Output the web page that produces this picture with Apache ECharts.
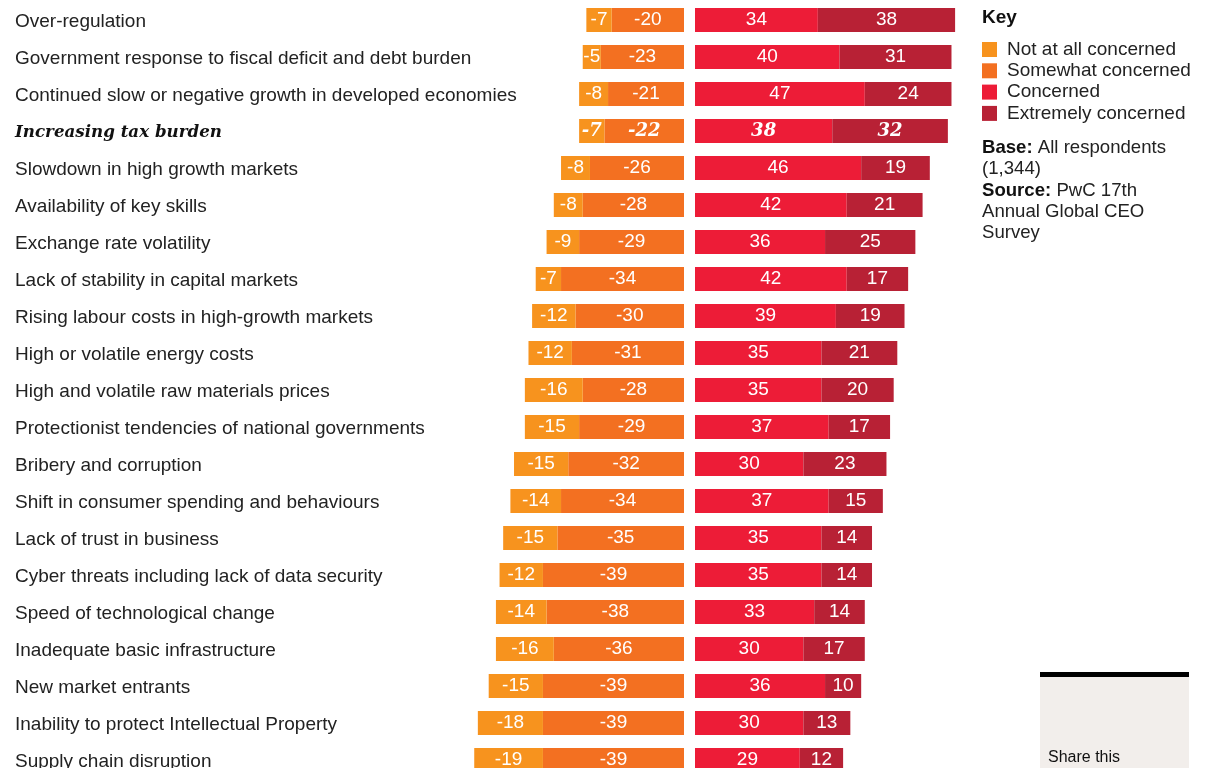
<!DOCTYPE html>
<html><head><meta charset="utf-8">
<script src="https://cdn.jsdelivr.net/npm/echarts@6/dist/echarts.min.js"></script>
<style>html,body{margin:0;padding:0;background:#fff;overflow:hidden;width:1209px;height:768px;}#c{width:1209px;height:800px;}</style>
</head><body><div id="c"></div>
<script>
const categories = [
  "Over-regulation",
  "Government response to fiscal deficit and debt burden",
  "Continued slow or negative growth in developed economies",
  "Increasing tax burden",
  "Slowdown in high growth markets",
  "Availability of key skills",
  "Exchange rate volatility",
  "Lack of stability in capital markets",
  "Rising labour costs in high-growth markets",
  "High or volatile energy costs",
  "High and volatile raw materials prices",
  "Protectionist tendencies of national governments",
  "Bribery and corruption",
  "Shift in consumer spending and behaviours",
  "Lack of trust in business",
  "Cyber threats including lack of data security",
  "Speed of technological change",
  "Inadequate basic infrastructure",
  "New market entrants",
  "Inability to protect Intellectual Property",
  "Supply chain disruption"
];
const notAtAll   = [-7,-5,-8,-7,-8,-8,-9,-7,-12,-12,-16,-15,-15,-14,-15,-12,-14,-16,-15,-18,-19];
const somewhat   = [-20,-23,-21,-22,-26,-28,-29,-34,-30,-31,-28,-29,-32,-34,-35,-39,-38,-36,-39,-39,-39];
const concerned  = [34,40,47,38,46,42,36,42,39,35,35,37,30,37,35,35,33,30,36,30,29];
const extremely  = [38,31,24,32,19,21,25,17,19,21,20,17,23,15,14,14,14,17,10,13,12];
const highlighted = ["Increasing tax burden"];
const seriesNames = ["Not at all concerned","Somewhat concerned","Concerned","Extremely concerned"];

const colors = {"Not at all concerned":"#F7931E","Somewhat concerned":"#F37021","Concerned":"#ED1C37","Extremely concerned":"#B82135"};
const SANS = "Liberation Sans, Arial, Helvetica, sans-serif";
const SERIF = "DejaVu Serif, Georgia, serif";

function items(arr){
  return arr.map((v,i)=>{
    const hl = highlighted.indexOf(categories[i])>=0;
    return hl ? {value:v,label:{fontFamily:SERIF,fontStyle:'italic',fontWeight:'bold',fontSize:18}} : v;
  });
}
function mk(name, arr, idx){
  return {
    name:name, type:'bar', stack:'s'+idx, xAxisIndex:idx, yAxisIndex:idx,
    barWidth:24, data:items(arr),
    itemStyle:{color:colors[name]},
    label:{show:true,position:'inside',color:'#fff',fontFamily:SANS,fontSize:19,padding:[2,0,0,0]},
    emphasis:{disabled:true}
  };
}

const chart = echarts.init(document.getElementById('c'),null,{renderer:'canvas'});
chart.setOption({
  animation:false,
  grid:[
    {left:467,width:217,top:1.5,height:777,containLabel:false,outerBoundsMode:'none'},
    {left:695,width:289,top:1.5,height:777,containLabel:false,outerBoundsMode:'none'}
  ],
  xAxis:[
    {type:'value',gridIndex:0,min:-60,max:0,show:false},
    {type:'value',gridIndex:1,min:0,max:80,show:false}
  ],
  yAxis:[
    {type:'category',gridIndex:0,data:categories,inverse:true,
     axisLine:{show:false},axisTick:{show:false},
     axisLabel:{show:true,align:'left',margin:452,color:'#222',fontFamily:SANS,fontSize:19,padding:[4,0,0,0],
       formatter:function(v){return highlighted.indexOf(v)>=0 ? '{h|'+v+'}' : v;},
       rich:{h:{fontFamily:SERIF,fontStyle:'italic',fontWeight:'bold',fontSize:16.7,color:'#111'}}}},
    {type:'category',gridIndex:1,data:categories,inverse:true,show:false}
  ],
  legend:{
    orient:'vertical',left:982,top:40,padding:0,itemWidth:15,itemHeight:15,itemGap:2.3,icon:'rect',
    data:seriesNames,selectedMode:false,
    textStyle:{color:'#222',fontFamily:SANS,fontSize:19,padding:[0,0,0,5]}
  },
  series:[
    mk(seriesNames[1], somewhat, 0),
    mk(seriesNames[0], notAtAll, 0),
    mk(seriesNames[2], concerned, 1),
    mk(seriesNames[3], extremely, 1)
  ],
  graphic:[
    {type:'text',left:982,top:8,style:{text:'Key',fontFamily:SANS,fontWeight:'bold',fontSize:19,fill:'#111'}},
    {type:'text',left:982,top:137,style:{
      text:'{b|Base:} All respondents\n(1,344)\n{b|Source:} PwC 17th\nAnnual Global CEO\nSurvey',
      fontFamily:SANS,fontSize:18.6,fill:'#222',lineHeight:21.4,
      rich:{b:{fontWeight:'bold',fontFamily:SANS,fontSize:18.6,fill:'#111',lineHeight:21.4}}}},
    {type:'rect',shape:{x:1040,y:672,width:149,height:100},style:{fill:'#F2EEEB'}},
    {type:'rect',shape:{x:1040,y:672,width:149,height:5},style:{fill:'#000'}},
    {type:'text',left:1048,top:750,style:{text:'Share this',fontFamily:SANS,fontSize:16,fill:'#111'}}
  ]
});
</script></body></html>
